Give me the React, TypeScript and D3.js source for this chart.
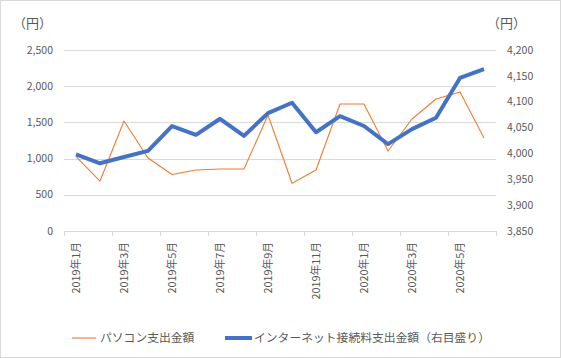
import React, { useEffect, useRef } from "react";
import * as d3 from "d3";

const months = [
  "2019年1月", "2019年2月", "2019年3月", "2019年4月", "2019年5月", "2019年6月",
  "2019年7月", "2019年8月", "2019年9月", "2019年10月", "2019年11月", "2019年12月",
  "2020年1月", "2020年2月", "2020年3月", "2020年4月", "2020年5月", "2020年6月",
];
const pcSpending = [1026, 690, 1519, 1008, 780, 843, 856, 856, 1602, 659, 843, 1754, 1754, 1105, 1547, 1823, 1920, 1285];
const netSpending = [3998, 3981, 3993, 4005, 4053, 4036, 4067, 4034, 4078, 4098, 4041, 4072, 4053, 4018, 4047, 4069, 4146, 4163];
const leftTicks = [0, 500, 1000, 1500, 2000, 2500];
const rightTicks = [3850, 3900, 3950, 4000, 4050, 4100, 4150, 4200];
const seriesNames = ["パソコン支出金額", "インターネット接続料支出金額（右目盛り）"];
const unitLabel = "（円）";

const W = 561;
const H = 358;
const FONT = "'Noto Sans CJK JP', 'Noto Sans', sans-serif";
const TEXT = "#595959";
const GRID = "#d9d9d9";
const ORANGE = "#ED7D31";
const BLUE = "#4472C4";

export default function App() {
  const ref = useRef<SVGSVGElement>(null);

  useEffect(() => {
    const svg = d3.select(ref.current);
    svg.selectAll("*").remove();

    const left = 64, right = 496, top = 50, bottom = 231;

    const x = d3.scaleBand<string>().domain(months).range([left, right]).padding(0);
    const yL = d3.scaleLinear().domain([0, 2500]).range([bottom, top]);
    const yR = d3.scaleLinear().domain([3850, 4200]).range([bottom, top]);
    const cx = (m: string) => (x(m) as number) + x.bandwidth() / 2;

    svg.append("rect")
      .attr("x", 0.5).attr("y", 0.5).attr("width", W - 1).attr("height", H - 1)
      .attr("fill", "#fff").attr("stroke", GRID);

    // gridlines (left axis)
    svg.append("g").selectAll("line").data(leftTicks.filter(t => t > 0)).join("line")
      .attr("x1", left).attr("x2", right)
      .attr("y1", d => Math.round(yL(d)) + 0.5).attr("y2", d => Math.round(yL(d)) + 0.5)
      .attr("stroke", GRID).attr("stroke-width", 1);

    // x axis line
    svg.append("line")
      .attr("x1", left).attr("x2", right)
      .attr("y1", bottom + 0.5).attr("y2", bottom + 0.5)
      .attr("stroke", GRID);

    // tick marks every 2 months at boundaries
    const tickIdx = d3.range(0, months.length + 1, 2);
    svg.append("g").selectAll("line").data(tickIdx).join("line")
      .attr("x1", i => Math.round(left + i * x.bandwidth()) + 0.5)
      .attr("x2", i => Math.round(left + i * x.bandwidth()) + 0.5)
      .attr("y1", bottom).attr("y2", bottom + 5)
      .attr("stroke", GRID);

    // left tick labels
    svg.append("g").selectAll("text").data(leftTicks).join("text")
      .attr("x", 53).attr("y", d => yL(d))
      .attr("dy", "0.35em")
      .attr("text-anchor", "end")
      .attr("font-family", FONT).attr("font-size", 10.5).attr("fill", TEXT)
      .text(d => d3.format(",")(d));

    // right tick labels
    svg.append("g").selectAll("text").data(rightTicks).join("text")
      .attr("x", 507).attr("y", d => yR(d))
      .attr("dy", "0.35em")
      .attr("text-anchor", "start")
      .attr("font-family", FONT).attr("font-size", 10.5).attr("fill", TEXT)
      .text(d => d3.format(",")(d));

    // unit labels
    svg.append("text").attr("x", 13).attr("y", 23).attr("dy", "0.35em")
      .attr("font-family", FONT).attr("font-size", 13).attr("fill", TEXT).text(unitLabel);
    svg.append("text").attr("x", 487).attr("y", 23).attr("dy", "0.35em")
      .attr("font-family", FONT).attr("font-size", 13).attr("fill", TEXT).text(unitLabel);

    // x labels (every other month)
    svg.append("g").selectAll("text").data(months.filter((_, i) => i % 2 === 0)).join("text")
      .attr("transform", m => `translate(${cx(m)},${bottom + 11}) rotate(-90)`)
      .attr("dy", "0.35em")
      .attr("text-anchor", "end")
      .attr("font-family", FONT).attr("font-size", 10.8).attr("fill", TEXT)
      .text(m => m);

    // orange line (left axis)
    const lineL = d3.line<number>().x((_, i) => cx(months[i])).y(d => yL(d));
    svg.append("path").datum(pcSpending)
      .attr("d", lineL).attr("fill", "none")
      .attr("stroke", ORANGE).attr("stroke-width", 1.1).attr("stroke-linejoin", "round");

    // blue line (right axis)
    const lineR = d3.line<number>().x((_, i) => cx(months[i])).y(d => yR(d));
    svg.append("path").datum(netSpending)
      .attr("d", lineR).attr("fill", "none")
      .attr("stroke", BLUE).attr("stroke-width", 4).attr("stroke-linejoin", "round");

    // legend
    const ly = 338;
    svg.append("line").attr("x1", 72).attr("x2", 96).attr("y1", ly).attr("y2", ly)
      .attr("stroke", ORANGE).attr("stroke-width", 1.1);
    svg.append("text").attr("x", 100).attr("y", ly).attr("dy", "0.35em")
      .attr("font-family", FONT).attr("font-size", 11.8).attr("fill", TEXT).text(seriesNames[0]);
    svg.append("line").attr("x1", 225).attr("x2", 252).attr("y1", ly).attr("y2", ly)
      .attr("stroke", BLUE).attr("stroke-width", 4);
    svg.append("text").attr("x", 254).attr("y", ly).attr("dy", "0.35em")
      .attr("font-family", FONT).attr("font-size", 11.8).attr("fill", TEXT).text(seriesNames[1]);
  }, []);

  return (
    <div style={{ position: "fixed", left: 0, top: 0 }}>
      <svg ref={ref} width={W} height={H} style={{ display: "block" }} />
    </div>
  );
}
